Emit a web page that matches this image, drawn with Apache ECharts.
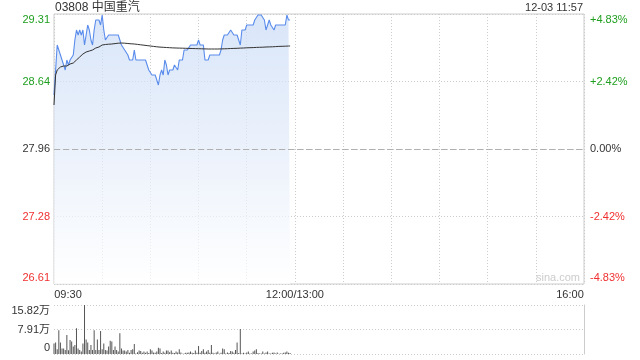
<!DOCTYPE html>
<html><head><meta charset="utf-8">
<script src="https://cdn.jsdelivr.net/npm/echarts@6/dist/echarts.min.js"></script>
<style>html,body{margin:0;padding:0;background:#fff}#c{width:640px;height:360px}</style>
</head><body><div id="c"></div>
<script>
const stockTitle = '03808 中国重汽';
const stampText = '12-03 11:57';
const watermarkText = 'sina.com';
const prevClose = 27.96;
const topPrice = 29.31;
const priceLabels = ['26.61', '27.28', '27.96', '28.64', '29.31'];
const pctLabels = ['-4.83%', '-2.42%', '0.00%', '+2.42%', '+4.83%'];
const volLabels = ['0', '7.91万', '15.82万'];
const volMax = 15.82;
const totalMinutes = 330;
const timeTickMinutes = [0, 150, 330];
const timeTickLabels = ['09:30', '12:00/13:00', '16:00'];

const prices = [
  28.50, 28.75, 29.00, 28.95, 28.90, 28.85, 28.80, 28.75, 28.85, 28.80,
  28.85, 28.85, 28.90, 29.05, 29.15, 29.10, 29.15, 29.10, 29.15, 29.00,
  29.10, 29.20, 29.15, 29.05, 29.00, 29.15, 29.25, 29.25, 29.25, 29.20,
  29.30, 29.15, 29.05, 29.05, 29.10, 29.10, 29.10, 29.10, 29.10, 29.10,
  29.10, 29.05, 29.00, 29.00, 28.95, 28.95, 28.90, 28.85, 28.85, 28.85,
  28.95, 28.85, 28.85, 28.85, 28.85, 28.85, 28.85, 28.85, 28.80, 28.75,
  28.75, 28.70, 28.70, 28.70, 28.70, 28.60, 28.70, 28.75, 28.70, 28.85,
  28.80, 28.70, 28.75, 28.75, 28.75, 28.80, 28.80, 28.75, 28.85, 28.85,
  28.85, 28.95, 28.95, 28.95, 28.95, 29.00, 29.00, 29.00, 29.00, 29.00,
  29.05, 29.00, 29.00, 29.00, 28.85, 28.85, 28.85, 28.90, 28.90, 28.90,
  28.90, 28.90, 28.90, 28.90, 28.95, 29.05, 29.10, 29.10, 29.10, 29.10,
  29.15, 29.15, 29.10, 29.10, 29.10, 29.05, 29.00, 29.15, 29.15, 29.15,
  29.20, 29.20, 29.20, 29.20, 29.20, 29.25, 29.25, 29.30, 29.30, 29.30,
  29.30, 29.25, 29.15, 29.20, 29.25, 29.20, 29.20, 29.15, 29.20, 29.20,
  29.20, 29.20, 29.20, 29.20, 29.20, 29.30, 29.25, 29.25
];

const avgPrices = [
  28.40, 28.70, 28.75, 28.77, 28.78, 28.78, 28.79, 28.79, 28.79, 28.80,
  28.81, 28.82, 28.82, 28.83, 28.85, 28.87, 28.88, 28.90, 28.91, 28.92,
  28.93, 28.935, 28.94, 28.945, 28.95, 28.96, 28.97, 28.975, 28.98, 28.99,
  29.00, 29.003, 29.005, 29.007, 29.008, 29.009, 29.01, 29.012, 29.014, 29.016,
  29.018, 29.02, 29.02, 29.019, 29.018, 29.017, 29.015, 29.013, 29.012, 29.011,
  29.01, 29.008, 29.006, 29.004, 29.002, 29.00, 28.998, 28.996, 28.994, 28.992,
  28.99, 28.988, 28.986, 28.984, 28.982, 28.98, 28.979, 28.978, 28.977, 28.976,
  28.975, 28.974, 28.973, 28.972, 28.971, 28.97, 28.97, 28.969, 28.969, 28.968,
  28.968, 28.967, 28.967, 28.966, 28.966, 28.965, 28.965, 28.964, 28.964, 28.963,
  28.963, 28.962, 28.962, 28.961, 28.961, 28.96, 28.96, 28.96, 28.96, 28.96,
  28.96, 28.96, 28.96, 28.961, 28.961, 28.962, 28.962, 28.963, 28.963, 28.964,
  28.965, 28.965, 28.966, 28.967, 28.967, 28.968, 28.969, 28.97, 28.97, 28.971,
  28.972, 28.972, 28.973, 28.974, 28.974, 28.975, 28.976, 28.977, 28.977, 28.978,
  28.978, 28.979, 28.98, 28.98, 28.981, 28.982, 28.982, 28.983, 28.984, 28.985,
  28.986, 28.986, 28.987, 28.988, 28.988, 28.989, 28.99, 28.99
];

const volumes = [
  3.4, 3.7, 1.5, 7.7, 3.7, 1.8, 1.8, 1.3, 6.1, 1.2,
  4.5, 4.0, 2.4, 2.9, 8.3, 1.8, 1.3, 0.8, 3.4, 15.8,
  4.7, 3.7, 1.3, 2.9, 1.3, 7.7, 1.3, 4.7, 1.3, 7.4,
  1.5, 3.4, 1.3, 1.1, 2.4, 4.3, 4.0, 1.3, 2.4, 1.3,
  0.8, 6.7, 1.8, 1.1, 1.1, 0.8, 1.3, 0.4, 1.3, 1.5,
  3.2, 0.2, 0.6, 1.1, 1.0, 0.4, 0.8, 0.4, 0.8, 0.3,
  1.5, 1.1, 0.5, 0.4, 0.8, 2.0, 1.8, 0.3, 0.8, 0.4,
  1.1, 1.1, 0.6, 1.1, 0.4, 0.3, 0.8, 0.5, 1.5, 0.5,
  0.1, 0.2, 0.4, 0.4, 0.5, 0.8, 0.4, 0.3, 1.1, 0.4,
  2.6, 0.4, 1.0, 1.5, 0.4, 0.8, 1.3, 0.4, 2.9, 0.4,
  0.2, 0.5, 0.8, 0.1, 0.4, 1.8, 1.5, 0.2, 0.5, 0.3,
  1.0, 0.8, 0.4, 1.3, 3.7, 0.3, 8.1, 0.2, 0.4, 0.2,
  0.5, 0.8, 0.2, 0.2, 0.8, 1.1, 1.5, 0.3, 0.2, 0.2,
  0.8, 0.2, 0.5, 0.8, 0.2, 0.2, 0.4, 0.5, 0.2, 0.5,
  0.1, 0.2, 0.2, 0.4, 0.5, 0.8, 0.4, 0.3
];

const FONT = "Arial, 'Liberation Sans', 'Noto Sans CJK SC', sans-serif";
const GREEN = '#1f9f1f';
const RED = '#f03030';
const DARK = '#333333';
const GRID_LINE = '#cccccc';

const pctRange = (topPrice - prevClose) / prevClose * 100;
const pctInterval = pctRange / 2;
const toPct = p => (p - prevClose) / prevClose * 100;
const pctIndex = v => Math.round((v + pctRange) / pctInterval);
const labelStyle = idx => (idx >= 3 ? 'g' : (idx === 2 ? 'd' : 'r')) + (idx === 4 ? 'T' : (idx === 0 ? 'B' : ''));

function richSet(align) {
  const base = { fontSize: 11, fontFamily: FONT, align: align };
  const out = {};
  [['g', GREEN], ['d', DARK], ['r', RED]].forEach(([k, c]) => {
    out[k] = Object.assign({ color: c }, base);
    out[k + 'T'] = Object.assign({ color: c, padding: [12, 0, 0, 0] }, base);
    out[k + 'B'] = Object.assign({ color: c, padding: [0, 0, 12, 0] }, base);
  });
  return out;
}

const chart = echarts.init(document.getElementById('c'), null, { renderer: 'canvas', width: 640, height: 360 });

const option = {
  animation: false,
  backgroundColor: '#ffffff',
  textStyle: { fontFamily: FONT },
  grid: [
    { left: 54, right: 56, top: 14, height: 270, show: true, borderColor: GRID_LINE, borderWidth: 1, backgroundColor: 'transparent' },
    { left: 54, right: 56, top: 305, height: 49 }
  ],
  xAxis: [
    {
      type: 'value', gridIndex: 0, min: 0, max: totalMinutes, interval: 30,
      axisLine: { show: false }, axisTick: { show: false },
      splitLine: { show: true, lineStyle: { color: GRID_LINE, type: [1, 2], width: 1 } },
      axisLabel: {
        margin: 5, fontSize: 11, color: DARK, fontFamily: FONT,
        formatter: v => {
          const k = timeTickMinutes.indexOf(v);
          if (k < 0) return '';
          if (k === 0) return '{l|' + timeTickLabels[k] + '}';
          if (k === timeTickMinutes.length - 1) return '{r|' + timeTickLabels[k] + '}';
          return '{c|' + timeTickLabels[k] + '}';
        },
        rich: {
          l: { fontSize: 11, color: DARK, fontFamily: FONT, padding: [0, 0, 0, 28] },
          r: { fontSize: 11, color: DARK, fontFamily: FONT, padding: [0, 28, 0, 0] },
          c: { fontSize: 11, color: DARK, fontFamily: FONT }
        }
      }
    },
    {
      type: 'value', gridIndex: 1, min: 0, max: totalMinutes, interval: 30,
      axisLine: { show: false }, axisTick: { show: false }, axisLabel: { show: false },
      splitLine: { show: false }
    }
  ],
  yAxis: [
    {
      type: 'value', gridIndex: 0, position: 'left', min: -pctRange, max: pctRange, interval: pctInterval,
      axisLine: { show: false }, axisTick: { show: false },
      splitLine: { show: true, lineStyle: { color: GRID_LINE, type: [1, 2], width: 1 } },
      axisLabel: {
        margin: 4, fontSize: 11, fontFamily: FONT,
        formatter: v => { const i = pctIndex(v); return '{' + labelStyle(i) + '|' + priceLabels[i] + '}'; },
        rich: richSet('right')
      }
    },
    {
      type: 'value', gridIndex: 0, position: 'right', min: -pctRange, max: pctRange, interval: pctInterval,
      axisLine: { show: false }, axisTick: { show: false }, splitLine: { show: false },
      axisLabel: {
        margin: 6, fontSize: 11, fontFamily: FONT,
        formatter: v => { const i = pctIndex(v); return '{' + labelStyle(i) + '|' + pctLabels[i] + '}'; },
        rich: richSet('left')
      }
    },
    {
      type: 'value', gridIndex: 1, position: 'left', min: 0, max: volMax, interval: volMax / 2,
      axisLine: { show: false }, axisTick: { show: false },
      splitLine: { show: true, lineStyle: { color: GRID_LINE, type: [1, 2], width: 1 } },
      axisLabel: {
        margin: 4, fontSize: 11, fontFamily: FONT, color: DARK,
        formatter: v => {
          const i = Math.round(v / (volMax / 2));
          const s = i === 2 ? 'T' : (i === 0 ? 'B' : 'M');
          return '{' + s + '|' + volLabels[i] + '}';
        },
        rich: {
          T: { fontSize: 11, fontFamily: FONT, color: DARK, padding: [12, 0, 0, 0] },
          M: { fontSize: 11, fontFamily: FONT, color: DARK },
          B: { fontSize: 11, fontFamily: FONT, color: DARK, padding: [0, 0, 12, 0] }
        }
      }
    },
    {
      type: 'value', gridIndex: 1, position: 'right', min: 0, max: volMax, interval: volMax / 2,
      axisLine: { show: true, lineStyle: { color: GRID_LINE, width: 1 } },
      axisTick: { show: false }, axisLabel: { show: false }, splitLine: { show: false }
    }
  ],
  series: [
    {
      type: 'line', xAxisIndex: 0, yAxisIndex: 0,
      data: prices.map((p, i) => [i, toPct(p)]),
      symbol: 'none', silent: true,
      lineStyle: { color: '#5a8cec', width: 1.1 },
      areaStyle: {
        origin: 'start',
        color: new echarts.graphic.LinearGradient(0, 0, 0, 1, [
          { offset: 0, color: '#c9dbf6' },
          { offset: 0.5, color: '#e3ecfa' },
          { offset: 1, color: '#ffffff' }
        ])
      },
      markLine: {
        silent: true, symbol: 'none', label: { show: false },
        lineStyle: { color: '#b0b0b0', type: [6, 3], width: 1 },
        data: [{ yAxis: 0 }]
      },
      z: 2
    },
    {
      type: 'line', xAxisIndex: 0, yAxisIndex: 0,
      data: avgPrices.map((p, i) => [i, toPct(p)]),
      symbol: 'none', silent: true,
      lineStyle: { color: '#333333', width: 1 },
      z: 3
    },
    {
      type: 'bar', xAxisIndex: 1, yAxisIndex: 2,
      data: volumes.map((v, i) => [i, v]),
      barWidth: 1, silent: true,
      itemStyle: { color: '#555555' }
    }
  ],
  graphic: [
    { type: 'text', left: 55, top: 2, style: { text: stockTitle, fontSize: 12, fontFamily: FONT, fill: DARK } },
    { type: 'text', right: 57, top: 2, style: { text: stampText, fontSize: 11, fontFamily: FONT, fill: DARK } },
    { type: 'text', right: 60, top: 272, style: { text: watermarkText, fontSize: 11, fontFamily: FONT, fill: '#cccccc' } }
  ]
};
chart.setOption(option);
</script></body></html>
